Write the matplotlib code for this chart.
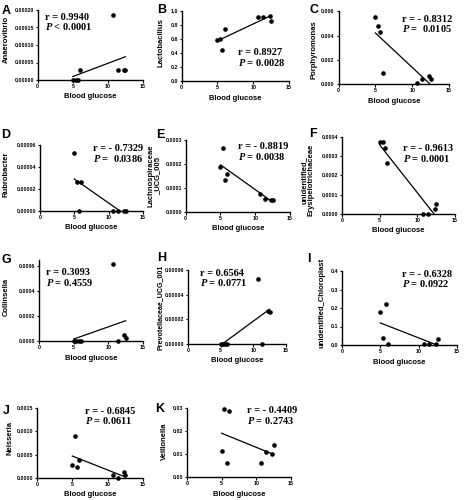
import numpy as np
import matplotlib
matplotlib.use("Agg")
import matplotlib.pyplot as plt
from matplotlib.ticker import FormatStrFormatter, MultipleLocator

plt.rcParams['font.family'] = ['Liberation Sans', 'DejaVu Sans']
plt.rcParams['font.weight'] = 'bold'
plt.rcParams['mathtext.fontset'] = 'custom'
plt.rcParams['mathtext.rm'] = 'Liberation Serif:bold'
plt.rcParams['mathtext.it'] = 'Liberation Serif:italic:bold'

# ### data
glucose = [5.0, 5.4, 5.7, 6.0, 10.7, 11.4, 12.3, 12.5]

anaerovibrio    = [0, 0, 0, 2.8e-5, 18.6e-5, 2.8e-5, 2.8e-5, 2.8e-5]
lactobacillus   = [0.59, 0.60, 0.45, 0.74, 0.91, 0.915, 0.925, 0.86]
porphyromonas   = [5.56e-3, 4.82e-3, 4.33e-3, 0.95e-3, 0.14e-3, 0.44e-3, 0.71e-3, 0.44e-3]
rubrobacter     = [5.3e-5, 2.65e-5, 0, 2.65e-5, 0, 0, 0, 0]
lachno_ucg005   = [1.86e-4, 2.65e-4, 1.33e-4, 1.58e-4, 0.77e-4, 0.53e-4, 0.52e-4, 0.50e-4]
erysipelo       = [3.72e-4, 3.72e-4, 3.43e-4, 2.65e-4, 0, 0, 0.26e-4, 0.52e-4]
collinsella     = [0, 0, 0, 0, 6.2e-4, 0, 0.45e-4, 0.27e-4]
prevo_ucg001    = [0, 0, 0, 0, 5.24e-5, 0, 2.7e-5, 2.6e-5]
chloroplast     = [0.177, 0.04, 0.22, 0.007, 0.004, 0.004, 0.003, 0.03]
neisseria       = [0.27e-3, 0.90e-3, 0.236e-3, 0.38e-3, 0.057e-3, 0.0, 0.13e-3, 0.057e-3]
veillonella     = [0.0114, 0.0297, 0.0063, 0.0285, 0.0063, 0.0107, 0.0098, 0.0139]

letters   = ['A', 'B', 'C', 'D', 'E', 'F', 'G', 'H', 'I', 'J', 'K']
ylabels   = ['Anaerovibrio', 'Lactobacillus', 'Porphyromonas', 'Rubrobacter',
             'Lachnospiraceae\n_UCG_005', 'unidentified_\nErysipelotrichaceae',
             'Collinsella', 'Prevotellaceae_UCG_001', 'unidentified_Chloroplast',
             'Neisseria', 'Veillonella']
r_texts   = ['r = 0.9940', 'r = 0.8927', 'r = - 0.8312', 'r = - 0.7329', 'r = - 0.8819',
             'r = - 0.9613', 'r = 0.3093', 'r = 0.6564', 'r = - 0.6328', 'r = - 0.6845',
             'r = - 0.4409']
p_texts   = ['< 0.0001', '= 0.0028', '=  0.0105', '=  0.0386', '= 0.0038', '= 0.0001',
             '= 0.4559', '= 0.0771', '= 0.0922', '= 0.0611', '= 0.2743']
series    = [anaerovibrio, lactobacillus, porphyromonas, rubrobacter, lachno_ucg005,
             erysipelo, collinsella, prevo_ucg001, chloroplast, neisseria, veillonella]
y_top     = [0.0002, 1.0, 0.006, 0.00006, 0.0003, 0.0004, 0.00065, 0.00006, 0.4, 0.0015, 0.03]
y_step    = [0.00005, 0.2, 0.002, 0.00002, 0.0001, 0.0001, 0.0002, 0.00002, 0.1, 0.0005, 0.01]
y_dec     = [5, 1, 3, 5, 4, 4, 4, 5, 1, 4, 2]

# ### layout in pixels (x0, x15, ytop, y0), measured from the top left
W, H = 474, 500
boxes = [(37.7, 143, 10, 80), (181.7, 289, 11, 81), (338.5, 449, 11.4, 84.3),
         (40, 143, 145, 211), (185.7, 290, 140, 212), (342, 455, 137, 214),
         (39, 143, 259.8, 341), (188, 286, 270, 344), (342, 457, 271, 345),
         (37, 143, 408, 478), (187, 291, 408, 477)]
letter_pos = [(2, 13.5), (157.5, 13), (310, 13), (1.5, 138), (156, 138), (309, 137),
              (2, 263), (157.5, 261), (307, 262), (3, 414.5), (155, 412)]
ylab_pos = [(6, 39), (161, 42.5), (314, 50), (6, 174), (154.5, 176), (307.5, 180),
            (6, 297), (160, 307), (322, 303), (10, 438), (164, 441)]
ylab_size = [5.5, 5.5, 5.5, 5.5, 5.5, 5.5, 5.5, 5.1, 5.5, 5.5, 5.5]
txt_pos = [(45, 19.5), (237.7, 55), (401.7, 21.7), (92.7, 151), (237.7, 149), (402.7, 151),
           (46, 275), (200, 276), (401.7, 276.7), (85, 414), (246.7, 413.3)]

fig = plt.figure(figsize=(W / 100, H / 100), dpi=100)

def fx(px):
    return px / W

def fy(py):
    return 1 - py / H

for i in range(len(letters)):
    x0, x15, yt, yb = boxes[i]
    ax = fig.add_axes([fx(x0), fy(yb), fx(x15 - x0), (yb - yt) / H])
    xs = np.array(glucose)
    ys = np.array(series[i])

    # линейная регрессия
    k, b = np.polyfit(xs, ys, 1)
    xl = np.array([xs.min(), xs.max()])
    ax.plot(xl, k * xl + b, color='black', lw=0.9)
    ax.plot(xs, ys, 'o', color='black', ms=2.3, clip_on=False, zorder=3)

    ax.set_xlim(0, 15)
    ax.set_ylim(0, y_top[i])
    ax.xaxis.set_major_locator(MultipleLocator(5))
    ax.yaxis.set_major_locator(MultipleLocator(y_step[i]))
    ax.yaxis.set_major_formatter(FormatStrFormatter('%.' + str(y_dec[i]) + 'f'))
    for s in ['top', 'right']:
        ax.spines[s].set_visible(False)
    for s in ['left', 'bottom']:
        ax.spines[s].set_linewidth(1.0)
    ax.tick_params(direction='out', length=1.8, width=0.8, labelsize=3.8, pad=1)
    for lab in ax.get_xticklabels() + ax.get_yticklabels():
        lab.set_fontweight('bold')

    ax.annotate('Blood glucose', xy=(0.5, 0), xycoords='axes fraction',
                xytext=(0, -17 * 0.72), textcoords='offset points',
                ha='center', va='center', fontsize=5.5, fontweight='bold')

    fig.text(fx(ylab_pos[i][0]), fy(ylab_pos[i][1]), ylabels[i], rotation=90,
             ha='center', va='center', fontsize=ylab_size[i], fontweight='bold',
             multialignment='center', linespacing=1.0)
    fig.text(fx(letter_pos[i][0]), fy(letter_pos[i][1]), letters[i],
             ha='left', va='baseline', fontsize=9, fontweight='bold')

    tx, ty = txt_pos[i]
    fig.text(fx(tx), fy(ty), r_texts[i], ha='left', va='baseline',
             fontsize=7.5, family='Liberation Serif', fontweight='bold')
    fig.text(fx(tx), fy(ty + 10.5), r'$P$ ' + p_texts[i], ha='left', va='baseline',
             fontsize=7.5, family='Liberation Serif', fontweight='bold')

fig.savefig('out.png', dpi=100)
